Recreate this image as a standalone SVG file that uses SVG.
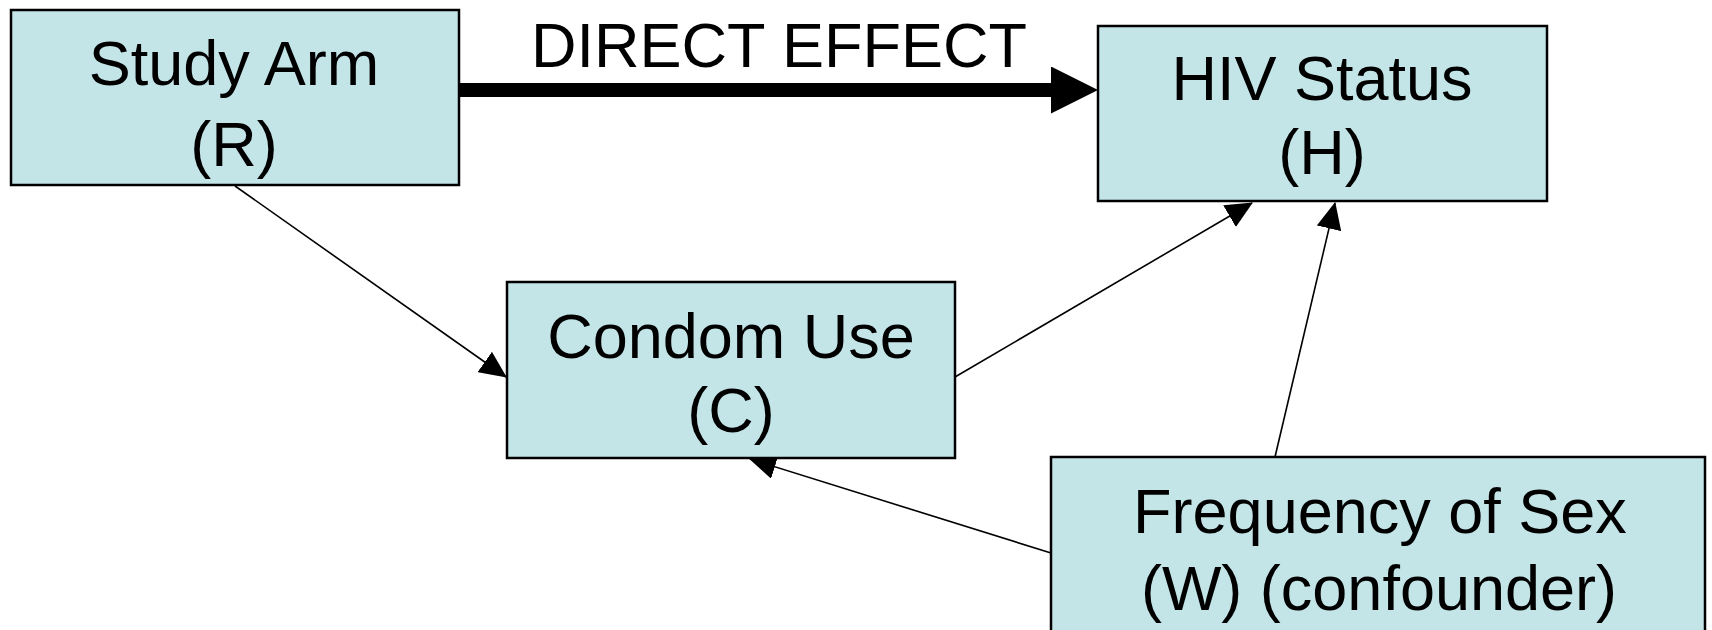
<svg xmlns="http://www.w3.org/2000/svg" width="1712" height="630" viewBox="0 0 1712 630">
  <style>
    .box { fill: #C4E5E8; stroke: #000; stroke-width: 2.5; }
    .lbl { font-family: "Liberation Sans", Arial, sans-serif; font-size: 63px; fill: #000; text-anchor: middle; }
    .conn { stroke: #000; stroke-width: 1.6; fill: none; marker-end: url(#arr); }
  </style>
  <defs>
    <marker id="arr" markerUnits="userSpaceOnUse" viewBox="0 0 27 25" refX="26" refY="12.5" markerWidth="27" markerHeight="25" orient="auto">
      <path d="M0,0 L27,12.5 L0,25 Z" fill="#000"/>
    </marker>
    <marker id="big" markerUnits="userSpaceOnUse" viewBox="0 0 47 47" refX="1" refY="23.5" markerWidth="47" markerHeight="47" orient="auto">
      <path d="M0,0 L47,23.5 L0,47 Z" fill="#000"/>
    </marker>
  </defs>
  <rect width="1712" height="630" fill="#fff"/>

  <g id="connectors">
    <line x1="459" y1="90" x2="1052" y2="90" stroke="#000" stroke-width="14" marker-end="url(#big)"/>
    <line class="conn" x1="235" y1="186" x2="506" y2="377"/>
    <line class="conn" x1="955" y1="377" x2="1252" y2="203"/>
    <line class="conn" x1="1275" y1="457" x2="1335" y2="203"/>
    <line class="conn" x1="1051" y1="553" x2="750" y2="459"/>
    <text class="lbl" x="779" y="67" textLength="496" lengthAdjust="spacingAndGlyphs">DIRECT EFFECT</text>
  </g>

  <g id="node-study-arm">
    <rect class="box" x="11" y="10" width="448" height="175"/>
    <text class="lbl" x="234" y="85">Study Arm</text>
    <text class="lbl" x="234" y="166">(R)</text>
  </g>

  <g id="node-hiv-status">
    <rect class="box" x="1098" y="26" width="449" height="175"/>
    <text class="lbl" x="1322" y="100">HIV Status</text>
    <text class="lbl" x="1322" y="174">(H)</text>
  </g>

  <g id="node-condom-use">
    <rect class="box" x="507" y="282" width="448" height="176"/>
    <text class="lbl" x="731" y="358">Condom Use</text>
    <text class="lbl" x="731" y="432">(C)</text>
  </g>

  <g id="node-frequency">
    <rect class="box" x="1051" y="457" width="654" height="190"/>
    <text class="lbl" x="1380" y="533">Frequency of Sex</text>
    <text class="lbl" x="1379" y="610">(W) (confounder)</text>
  </g>
</svg>
